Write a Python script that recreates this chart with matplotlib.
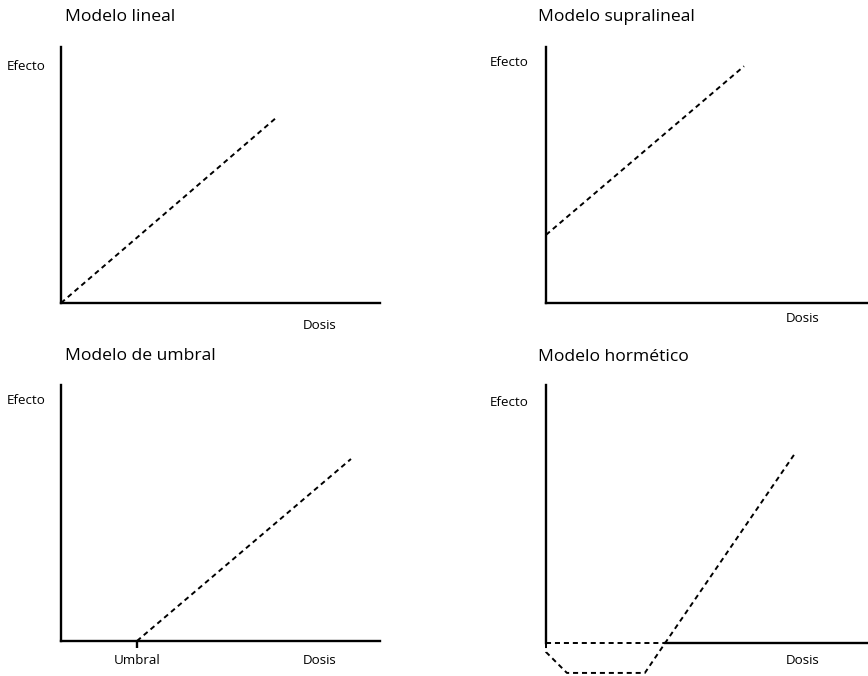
import matplotlib
matplotlib.use("Agg")
import matplotlib.pyplot as plt

plt.rcParams['font.family'] = ['Open Sans', 'DejaVu Sans']

# panel titles and labels
titles = ["Modelo lineal", "Modelo supralineal", "Modelo de umbral", "Modelo hormético"]
ylabel = "Efecto"
xlabel = "Dosis"
umbral_label = "Umbral"

# curves (dosis, efecto), arbitrary units 0..10
lin_x = [0, 6.74]
lin_y = [0, 7.23]
supra_x = [0, 6.15]
supra_y = [2.66, 9.25]
umbral = 2.38
umb_x = [umbral, 9.09]
umb_y = [0, 7.11]
horm_x = [0, 0, 0.65, 3.07, 3.70, 7.70]
horm_y = [0, -0.35, -1.16, -1.16, 0, 7.29]
horm_base_x = [0, 3.70]
horm_base_y = [0, 0]

W, H = 868, 676
fig = plt.figure(figsize=(W / 100, H / 100), dpi=100)


def px_axes(x0, y_top, x1, y_bot):
    return fig.add_axes([x0 / W, 1 - y_bot / H, (x1 - x0) / W, (y_bot - y_top) / H])


def ftext(x, y, s, **kw):
    fig.text(x / W, 1 - y / H, s, **kw)


dash = dict(color='black', lw=1.4, linestyle=(0, (2.6, 2.0)), clip_on=False)

axes_box = [
    (61, 47, 380, 303),
    (546, 47, 868, 303),
    (61, 385, 380, 641),
]
curves = [(lin_x, lin_y), (supra_x, supra_y), (umb_x, umb_y)]

for box, (cx, cy) in zip(axes_box, curves):
    ax = px_axes(*box)
    ax.plot(cx, cy, **dash)
    ax.set_xlim(0, 10)
    ax.set_ylim(0, 10)
    ax.spines[['top', 'right']].set_visible(False)
    ax.spines[['left', 'bottom']].set_linewidth(1.7)
    ax.set_xticks([])
    ax.set_yticks([])
    ax.patch.set_alpha(0)
    if box == axes_box[2]:
        ax.set_xticks([umbral])
        ax.set_xticklabels([])
        ax.tick_params(axis='x', length=5, width=1.7, direction='out')

# hormetic panel, x axis at y=0
ax = px_axes(546, 385, 868, 673)
ylo = -(673 - 643) / (643 - 385) * 10
ax.set_xlim(0, 10)
ax.set_ylim(ylo, 10)
ax.plot(horm_x, horm_y, **dash)
ax.plot(horm_base_x, horm_base_y, **dash)
ax.spines[['top', 'right']].set_visible(False)
ax.spines['bottom'].set_position(('data', 0))
ax.spines['bottom'].set_bounds(horm_base_x[1], 10)
ax.spines['left'].set_bounds(0, 10)
ax.spines[['left', 'bottom']].set_linewidth(1.7)
ax.set_xticks([])
ax.set_yticks([])
ax.patch.set_alpha(0)

# text
tkw = dict(fontsize=12.6, va='center', ha='left')
ftext(65, 17, titles[0], **tkw)
ftext(538, 17, titles[1], **tkw)
ftext(65, 356, titles[2], **tkw)
ftext(538, 357, titles[3], **tkw)

lkw = dict(fontsize=9.6, va='center', ha='left')
ftext(7, 67, ylabel, **lkw)
ftext(490, 62, ylabel, **lkw)
ftext(7, 400, ylabel, **lkw)
ftext(490, 403, ylabel, **lkw)

ftext(303, 325, xlabel, **lkw)
ftext(786, 319, xlabel, **lkw)
ftext(303, 660, xlabel, **lkw)
ftext(786, 661, xlabel, **lkw)
ftext(137, 660, umbral_label, fontsize=9.6, va='center', ha='center')

fig.savefig("out.png", dpi=100)
